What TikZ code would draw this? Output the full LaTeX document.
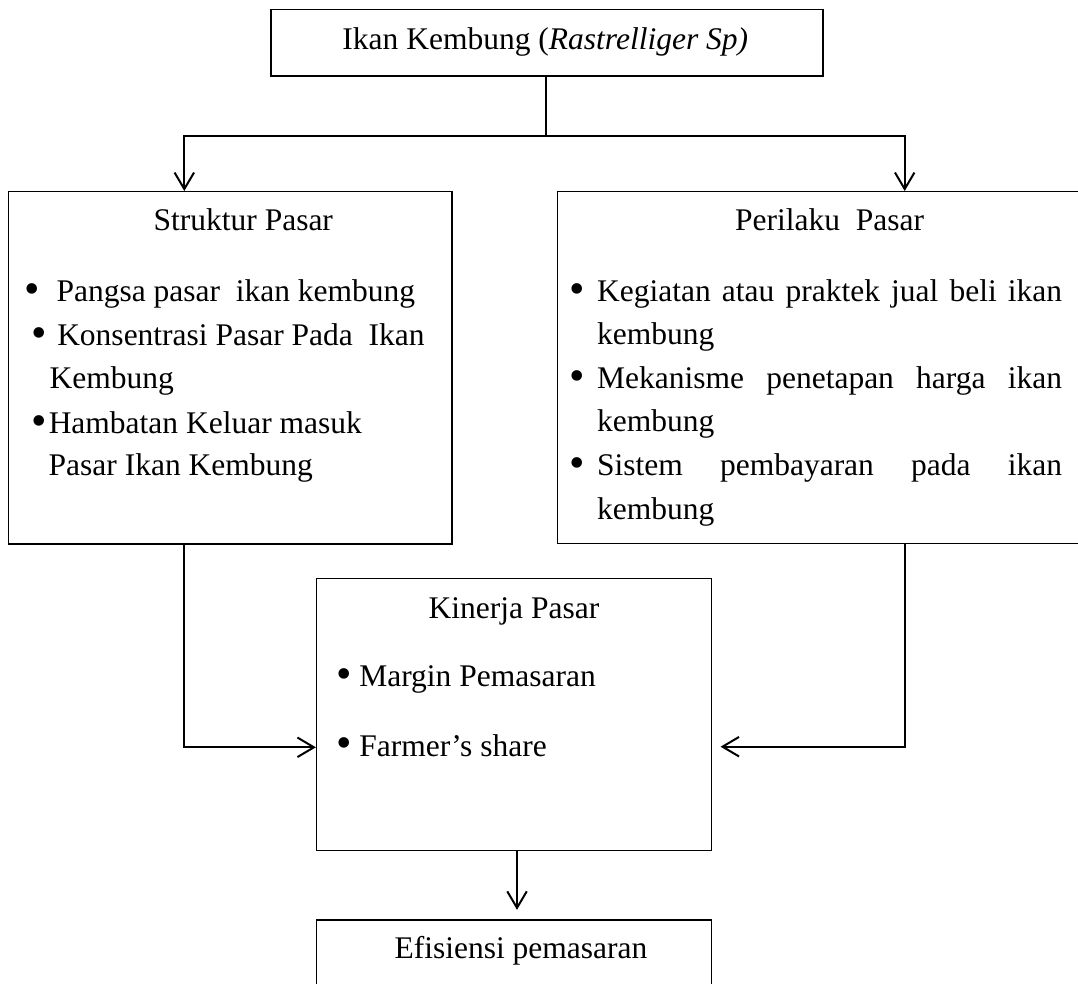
\documentclass[tikz,border=0pt]{standalone}
\usepackage{fontspec}
\setmainfont{Liberation Serif}
\usepackage{tikz}
\usetikzlibrary{
  arrows.meta,
  positioning,
  fit
}
\newcommand{\blt}[1]{\makebox[#1][l]{\raisebox{-0.12ex}{\scalebox{1.4}{\textbullet}}}}

\begin{document}
\begin{tikzpicture}[x=0.4pt, y=-0.4pt,
    font=\fontsize{12.6pt}{15pt}\selectfont,
    box/.style={draw, line width=0.55pt, inner sep=0pt},
    conn/.style={line width=0.8pt},
    arr/.style={conn, -{Straight Barb[length=6.6pt, width=7.8pt]}},
    txt/.style={anchor=base west, inner sep=0pt},
    ttl/.style={anchor=base, inner sep=0pt}]
  \useasboundingbox (0,0) rectangle (1078,984);
  \clip (0,0) rectangle (1078,984);
  % Boxes (right and bottom ones run off the page edge)
  \node[box, fit={(271,9.5) (823,76)}] (ikan) {};
  \node[box, fit={(8.6,191.7) (452,544)}] (struktur) {};
  \node[box, fit={(557.2,191.7) (1095,543.5)}] (perilaku) {};
  \node[box, fit={(316.6,578.3) (711.6,850.7)}] (kinerja) {};
  \node[box, fit={(316.6,920) (711.6,1005)}] (efisiensi) {};
  % Titles
  \node[ttl] (tIkan) at (545.3,50) {Ikan Kembung (\textit{Rastrelliger Sp)}};
  \node[ttl] (tStruktur) at (243.3,230.7) {Struktur Pasar};
  \node[ttl] (tPerilaku) at (829.5,230.7) {Perilaku\ \ Pasar};
  \node[ttl] (tKinerja) at (514,618.3) {Kinerja Pasar};
  \node[ttl] (tEfisiensi) at (521,958) {Efisiensi pemasaran};
  % Struktur Pasar items
  \node[txt] (s1) at (23.8,301.7) {\blt{12.9pt}Pangsa pasar\ \ ikan kembung};
  \node[txt] (s2) at (30.5,345.7) {\blt{10.5pt}Konsentrasi Pasar Pada\ \ Ikan};
  \node[txt] (s2b) at (49.2,389) {Kembung};
  \node[txt] (s3) at (30.5,433.3) {\blt{7.1pt}Hambatan Keluar masuk};
  \node[txt] (s3b) at (48.2,476) {Pasar Ikan Kembung};
  % Perilaku Pasar items (justified)
  \node[txt] (p1) at (568.8,301.7) {\blt{11.1pt}\makebox[186pt][s]{Kegiatan atau praktek jual beli ikan}};
  \node[txt] (p1b) at (596.6,345) {kembung};
  \node[txt] (p2) at (568.8,389) {\blt{11.1pt}\makebox[186pt][s]{Mekanisme penetapan harga ikan}};
  \node[txt] (p2b) at (596.6,431.7) {kembung};
  \node[txt] (p3) at (568.8,476) {\blt{11.1pt}\makebox[186pt][s]{Sistem pembayaran pada ikan}};
  \node[txt] (p3b) at (596.6,519.3) {kembung};
  % Kinerja Pasar items
  \node[txt] (k1) at (336.3,686.7) {\blt{9pt}Margin Pemasaran};
  \node[txt] (k2) at (336.3,756) {\blt{9pt}Farmer’s share};
  % Connectors
  \coordinate (split) at (545.7,136);
  \coordinate (colL) at (184.3,0);
  \coordinate (colR) at (904.7,0);
  \coordinate (colM) at (517,0);
  \coordinate (rowL) at (0,747.3);
  \coordinate (rowR) at (0,746.7);
  \draw[conn] (ikan.south -| split) -- (split);
  \draw[arr] (split) -| (struktur.north -| colL);
  \draw[arr] (split) -| (perilaku.north -| colR);
  \draw[arr] (struktur.south -| colL) |- (kinerja.west |- rowL);
  \draw[arr, shorten >=3.3pt] (perilaku.south -| colR) |- (kinerja.east |- rowR);
  \draw[arr, shorten >=3.8pt] (kinerja.south -| colM) -- (efisiensi.north -| colM);
\end{tikzpicture}
\end{document}
